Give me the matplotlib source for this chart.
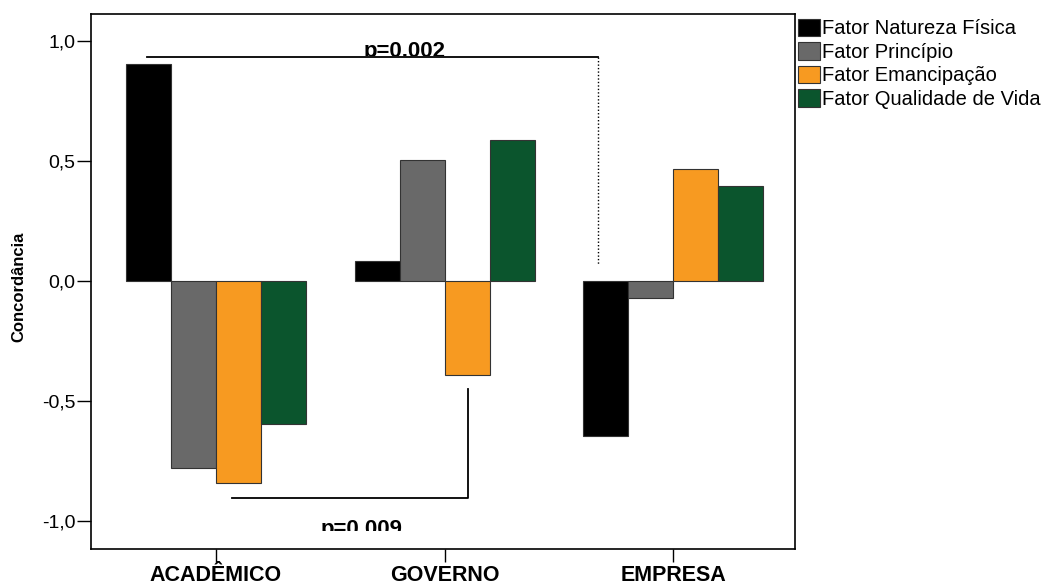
import matplotlib.pyplot as plt
import numpy as np
from matplotlib.transforms import Bbox, TransformedBbox

plt.rcParams['font.family'] = ['Liberation Sans', 'DejaVu Sans']

groups = ['ACADÊMICO', 'GOVERNO', 'EMPRESA']
series = ['Fator Natureza Física', 'Fator Princípio', 'Fator Emancipação', 'Fator Qualidade de Vida']
natureza = [0.905, 0.083, -0.645]
principio = [-0.78, 0.504, -0.07]
emancipacao = [-0.843, -0.39, 0.468]
qualidade = [-0.595, 0.588, 0.396]
colors = ['#000000', '#696969', '#F79A21', '#0B552D']

values = [natureza, principio, emancipacao, qualidade]

fig = plt.figure(figsize=(10.48, 5.85), dpi=100)
ax = fig.add_axes([0.0868, 0.0615, 0.672, 0.9145])

x = np.arange(len(groups))
w = 0.197
for i, vals in enumerate(values):
    ax.bar(x + (i - 1.5) * w, vals, w, color=colors[i], edgecolor='#333333',
           linewidth=0.8, label=series[i], zorder=2)

ax.set_xlim(-0.547, 2.534)
ax.set_ylim(-1.117, 1.1125)
ax.set_yticks([-1.0, -0.5, 0.0, 0.5, 1.0])
ax.set_yticklabels(['-1,0', '-0,5', '0,0', '0,5', '1,0'], fontsize=14)
ax.set_xticks(x)
ax.set_xticklabels(groups, fontsize=15.5, fontweight='bold')
ax.tick_params(axis='y', length=10, width=1, pad=1)
ax.tick_params(axis='x', length=9.5, width=1, pad=2)
for s in ax.spines.values():
    s.set_linewidth(1.2)
ax.set_ylabel('Concordância', fontsize=12, fontweight='bold')
ax.yaxis.set_label_coords(-0.092, 0.49)

# p-value brackets
ax.plot([-0.302, 1.672], [0.933, 0.933], color='black', lw=1.3, zorder=3)
ax.plot([1.672, 1.672], [0.933, 0.067], color='black', lw=1.0, ls=(0, (1, 1.5)), zorder=3)
t1 = ax.text(0.827, 0.935, 'p=0,002', fontsize=16, fontweight='bold',
             ha='center', va='baseline', clip_on=True)
t1.set_clip_box(TransformedBbox(Bbox([[-1, 0.936], [3, 1.2]]), ax.transData))

ax.plot([0.07, 1.103, 1.103], [-0.904, -0.904, -0.45], color='black', lw=1.3, zorder=3)
t2 = ax.text(0.635, -1.058, 'p=0,009', fontsize=16, fontweight='bold',
             ha='center', va='baseline', clip_on=True)
t2.set_clip_box(TransformedBbox(Bbox([[-1, -1.042], [3, 0]]), ax.transData))

leg = ax.legend(loc='upper left', bbox_to_anchor=(1.004, 0.9916), frameon=False,
                fontsize=14.5, handlelength=1.1, handleheight=0.95, handletextpad=0.1,
                labelspacing=0.2, borderaxespad=0, borderpad=0)

fig.savefig('out.png', dpi=100)
